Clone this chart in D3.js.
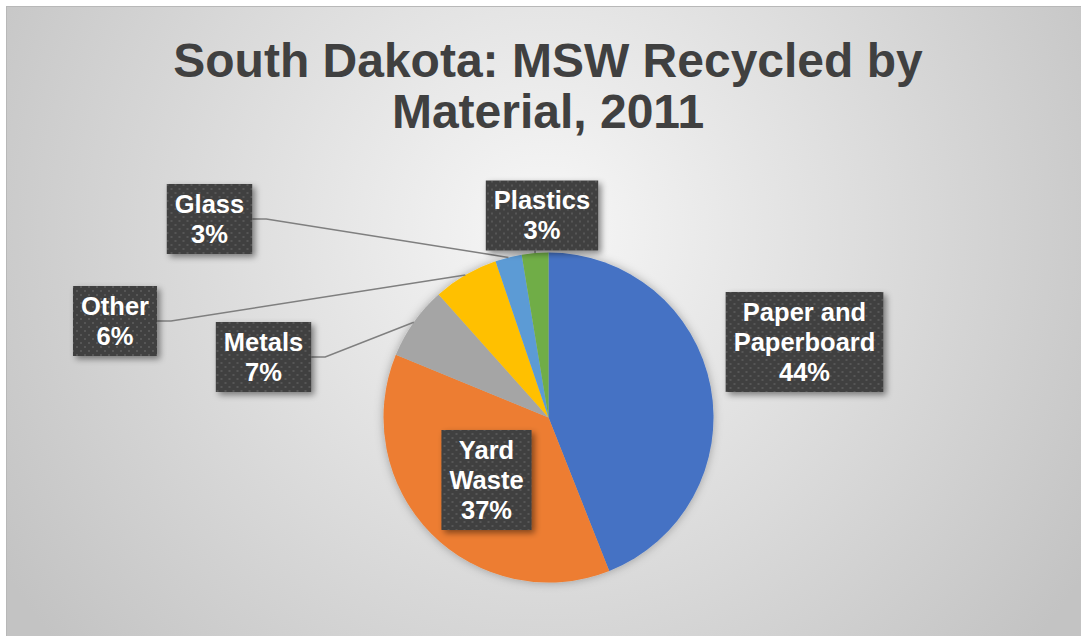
<!DOCTYPE html>
<html>
<head>
<meta charset="utf-8">
<script src="https://cdn.jsdelivr.net/npm/d3@7"></script>
<style>
  html, body { margin: 0; padding: 0; background: #fff; }
  svg { display: block; font-family: "Liberation Sans", Arial, sans-serif; }
</style>
</head>
<body>
<svg id="chart" width="1081" height="636"></svg>
<script>
// data (percent of MSW recycled)
const materials = ["Paper and Paperboard", "Yard Waste", "Metals", "Other", "Glass", "Plastics"];
const shares = [44.0, 37.2, 7.2, 6.4, 2.6, 2.6];
const labelLines = [["Paper and", "Paperboard"], ["Yard", "Waste"], ["Metals"], ["Other"], ["Glass"], ["Plastics"]];
const colors = ["#4472c4", "#ed7d31", "#a5a5a5", "#ffc000", "#5b9bd5", "#70ad47"];

// where Excel parked each data label (box centre) and which side the leader leaves from
const labelBox = {
  "Paper and Paperboard": { x: 804.5, y: 342, leader: null },
  "Yard Waste": { x: 486.5, y: 480, leader: null },
  "Metals": { x: 263.5, y: 357, leader: "right" },
  "Other": { x: 115, y: 321, leader: "right" },
  "Glass": { x: 209.5, y: 219, leader: "right" },
  "Plastics": { x: 542, y: 215.5, leader: "bottom" }
};

const width = 1081, height = 636;
const cx = 548.5, cy = 417.5, radius = 165;

const svg = d3.select("#chart");
const defs = svg.append("defs");

const bg = defs.append("radialGradient")
  .attr("id", "bg")
  .attr("gradientUnits", "userSpaceOnUse")
  .attr("cx", 545).attr("cy", 230).attr("r", 640);
bg.append("stop").attr("offset", 0).attr("stop-color", "#f7f7f7");
bg.append("stop").attr("offset", 1).attr("stop-color", "#c3c3c3");

const dots = defs.append("pattern")
  .attr("id", "dots")
  .attr("patternUnits", "userSpaceOnUse")
  .attr("width", 8).attr("height", 8);
dots.append("rect").attr("width", 8).attr("height", 8).attr("fill", "#404040");
dots.append("rect").attr("x", 1).attr("y", 1).attr("width", 2).attr("height", 2).attr("fill", "#575757");
dots.append("rect").attr("x", 5).attr("y", 5).attr("width", 2).attr("height", 2).attr("fill", "#575757");

const shadow = defs.append("filter").attr("id", "shadow")
  .attr("x", "-20%").attr("y", "-20%").attr("width", "150%").attr("height", "150%");
shadow.append("feDropShadow")
  .attr("dx", 3).attr("dy", 3).attr("stdDeviation", 3)
  .attr("flood-color", "#000").attr("flood-opacity", 0.45);

const pieShadow = defs.append("filter").attr("id", "pieShadow")
  .attr("x", "-20%").attr("y", "-20%").attr("width", "140%").attr("height", "140%");
pieShadow.append("feDropShadow")
  .attr("dx", 0).attr("dy", 0).attr("stdDeviation", 5)
  .attr("flood-color", "#000").attr("flood-opacity", 0.3);

// chart area
svg.append("rect")
  .attr("x", 6.5).attr("y", 6.5)
  .attr("width", width).attr("height", height)
  .attr("fill", "url(#bg)")
  .attr("stroke", "#b8b8b8")
  .attr("stroke-width", 1);

// title
svg.append("text")
  .attr("x", 548).attr("text-anchor", "middle")
  .attr("font-size", 48).attr("font-weight", "bold")
  .attr("fill", "#404040")
  .selectAll("tspan")
  .data(["South Dakota: MSW Recycled by", "Material, 2011"])
  .join("tspan")
  .attr("x", 548)
  .attr("y", (d, i) => 77 + i * 51)
  .text(d => d);

// pie
const data = materials.map((m, i) => ({ name: m, value: shares[i], lines: labelLines[i], color: colors[i] }));
const pie = d3.pie().sort(null).value(d => d.value);
const arc = d3.arc().innerRadius(0).outerRadius(radius);
const arcs = pie(data);

const g = svg.append("g").attr("transform", `translate(${cx},${cy})`);
g.append("g")
  .attr("filter", "url(#pieShadow)")
  .selectAll("path")
  .data(arcs)
  .join("path")
  .attr("d", arc)
  .attr("fill", d => d.data.color);

// leader lines go under the label boxes, filled in once the boxes are measured
const leaderG = svg.append("g")
  .attr("fill", "none")
  .attr("stroke", "#7f7f7f")
  .attr("stroke-width", 1.5);

// labels
const fontSize = 25.5, lineH = 30, padX = 8, padY = 5;

const labels = svg.append("g").selectAll("g")
  .data(arcs)
  .join("g")
  .attr("transform", d => `translate(${labelBox[d.data.name].x},${labelBox[d.data.name].y})`);

labels.each(function (d) {
  const lg = d3.select(this);
  const lines = d.data.lines.concat([Math.round(d.data.value) + "%"]);
  const box = lg.append("rect").attr("fill", "url(#dots)").attr("filter", "url(#shadow)");
  const t = lg.append("text")
    .attr("text-anchor", "middle")
    .attr("font-size", fontSize)
    .attr("font-weight", "bold")
    .attr("fill", "#fff");
  const h = lines.length * lineH;
  t.selectAll("tspan").data(lines).join("tspan")
    .attr("x", 0)
    .attr("y", (l, i) => -h / 2 + i * lineH + lineH / 2 + fontSize * 0.35)
    .text(l => l);
  const w = t.node().getBBox().width + padX * 2;
  box.attr("x", -w / 2).attr("y", -h / 2 - padY).attr("width", w).attr("height", h + padY * 2);
  d.boxW = w; d.boxH = h + padY * 2;
});

// leader lines from box edge to the middle of each slice's rim
leaderG.selectAll("polyline")
  .data(arcs.filter(d => labelBox[d.data.name].leader))
  .join("polyline")
  .attr("points", d => {
    const a = (d.startAngle + d.endAngle) / 2;
    const px = cx + radius * Math.sin(a), py = cy - radius * Math.cos(a);
    const b = labelBox[d.data.name];
    if (b.leader === "bottom") {
      const sy = b.y + d.boxH / 2;
      return [[px, sy], [px, py]].join(" ");
    }
    const sx = b.x + d.boxW / 2;
    return [[sx, b.y], [sx + 14, b.y], [px, py]].join(" ");
  });
</script>
</body>
</html>
